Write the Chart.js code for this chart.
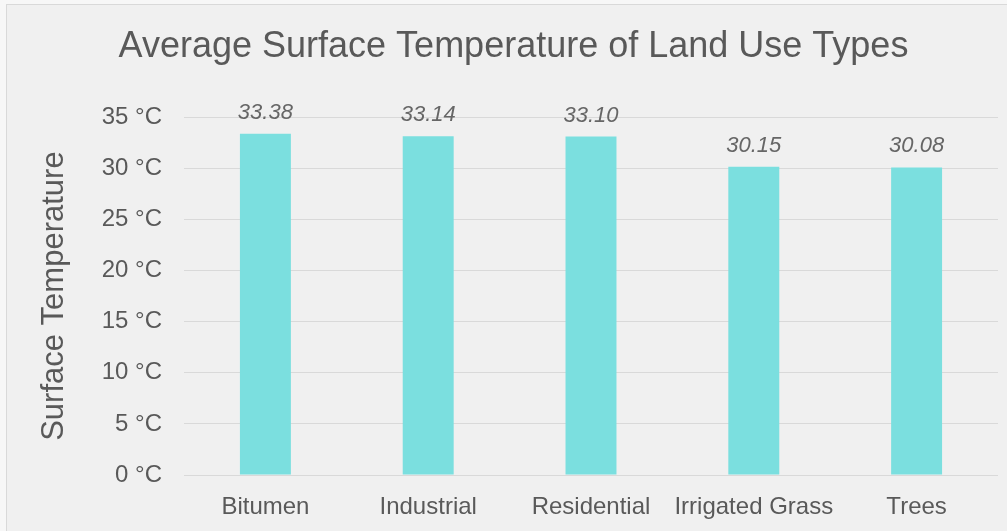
<!DOCTYPE html>
<html>
<head>
<meta charset="utf-8">
<script src="https://cdn.jsdelivr.net/npm/chart.js@4.4.1/dist/chart.umd.min.js"></script>
<style>
    html, body { margin: 0; padding: 0; background: #f7f7f7; }
    #frame {
        position: absolute; left: 6px; top: 4px; width: 1020px; height: 540px;
        background: #f0f0f0; border: 1px solid #d9d9d9;
    }
    #wrap { position: absolute; left: 0; top: 0; width: 1007px; height: 531px; }
</style>
</head>
<body>
<div id="frame"></div>
<div id="wrap"><canvas id="chart"></canvas></div>
<script>
    var categories = ['Bitumen', 'Industrial', 'Residential', 'Irrigated Grass', 'Trees'];
    var temperatures = [33.38, 33.14, 33.10, 30.15, 30.08];
    var yTicks = [0, 5, 10, 15, 20, 25, 30, 35];

    var textColor = '#595959';
    var fontFamily = '"Liberation Sans", Arial, sans-serif';

    // value labels above each bar, italic like the original
    var barLabels = {
        id: 'barLabels',
        afterDatasetsDraw: function (chart) {
            var ctx = chart.ctx;
            var meta = chart.getDatasetMeta(0);
            ctx.save();
            ctx.font = 'italic 22px ' + fontFamily;
            ctx.fillStyle = '#666666';
            ctx.textAlign = 'center';
            ctx.textBaseline = 'alphabetic';
            meta.data.forEach(function (bar, i) {
                ctx.fillText(temperatures[i].toFixed(2), bar.x, bar.y - 15);
            });
            ctx.restore();
        }
    };

    new Chart(document.getElementById('chart'), {
        type: 'bar',
        data: {
            labels: categories,
            datasets: [{
                data: temperatures,
                backgroundColor: '#7bdfdf',
                borderWidth: 0,
                categoryPercentage: 1,
                barPercentage: 0.313
            }]
        },
        options: {
            responsive: true,
            maintainAspectRatio: false,
            animation: false,
            layout: { padding: { left: 29, right: 9, top: 0, bottom: 0 } },
            plugins: {
                legend: { display: false },
                tooltip: { enabled: false },
                title: {
                    display: true,
                    text: 'Average Surface Temperature of Land Use Types',
                    color: textColor,
                    font: { family: fontFamily, size: 36, weight: 'normal' },
                    padding: { top: 25, bottom: 49 }
                }
            },
            scales: {
                x: {
                    grid: { display: false },
                    border: { display: false },
                    ticks: {
                        color: textColor,
                        font: { family: fontFamily, size: 24 },
                        padding: 10,
                        maxRotation: 0,
                        autoSkip: false
                    },
                    afterFit: function (scale) { scale.height = 56; }
                },
                y: {
                    min: 0,
                    max: 35,
                    afterBuildTicks: function (scale) {
                        scale.ticks = yTicks.map(function (v) { return { value: v }; });
                    },
                    grid: { color: '#d9d9d9', lineWidth: 1, drawTicks: false },
                    border: { display: false },
                    ticks: {
                        color: textColor,
                        font: { family: fontFamily, size: 24 },
                        padding: 22,
                        callback: function (v) { return v + ' °C'; }
                    },
                    title: {
                        display: true,
                        text: 'Surface Temperature',
                        color: textColor,
                        font: { family: fontFamily, size: 31 },
                        padding: { top: 7, bottom: 0 }
                    },
                    afterFit: function (scale) { scale.width = 155; }
                }
            }
        },
        plugins: [barLabels]
    });
</script>
</body>
</html>
